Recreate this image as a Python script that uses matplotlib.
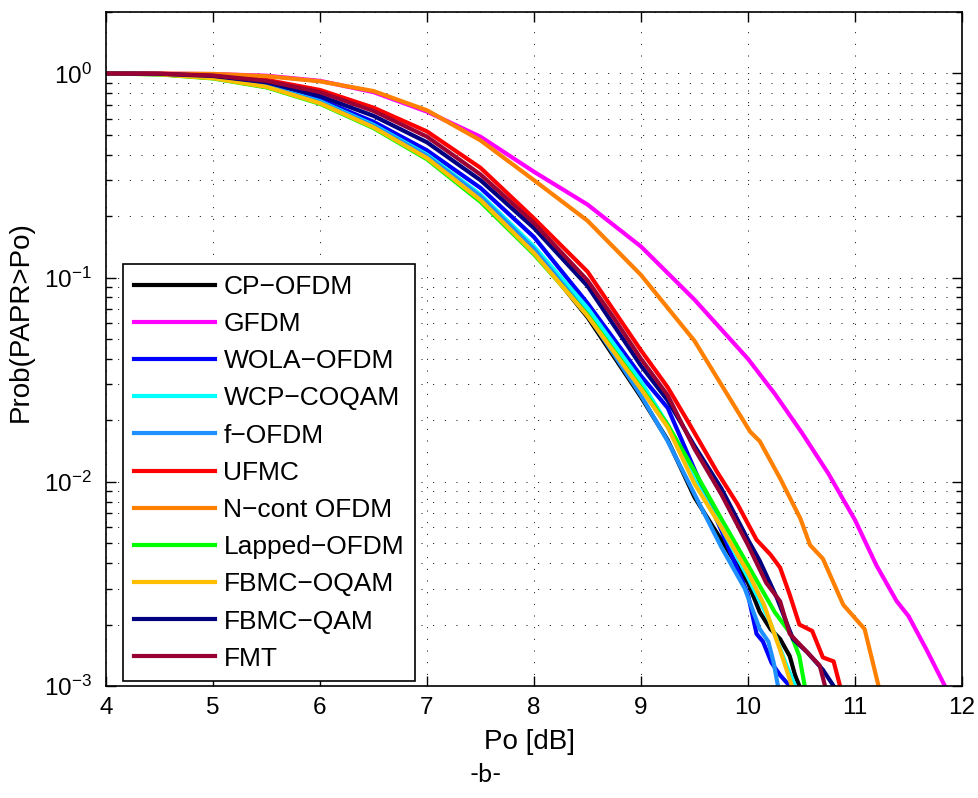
import numpy as np
import matplotlib
matplotlib.use('Agg')
import matplotlib.pyplot as plt
from matplotlib.ticker import LogLocator, NullFormatter

plt.rcParams['font.family'] = ['Liberation Sans', 'DejaVu Sans']
plt.rcParams['mathtext.fontset'] = 'custom'
plt.rcParams['mathtext.rm'] = 'Liberation Sans'
plt.rcParams['mathtext.it'] = 'Liberation Sans'

# CCDF of PAPR (x in dB, P = Prob(PAPR>Po))
x_cp = [4.0, 4.5, 5.0, 5.5, 6.0, 6.5, 7.0, 7.5, 8.0, 8.5, 9.0, 9.25, 9.5, 9.75, 10.0, 10.11, 10.21, 10.3, 10.39, 10.44, 10.48]
p_cp = [1.0, 0.993, 0.95, 0.86, 0.72, 0.55, 0.39, 0.245, 0.135, 0.064, 0.026, 0.016, 0.0084, 0.0052, 0.0032, 0.0023, 0.0019, 0.0017, 0.0014, 0.00113, 0.001]

x_gfdm = [4.0, 4.5, 5.0, 5.5, 6.0, 6.5, 7.0, 7.5, 8.0, 8.5, 9.0, 9.5, 10.0, 10.25, 10.5, 10.75, 11.0, 11.2, 11.39, 11.5, 11.67, 11.84]
p_gfdm = [1.0, 0.998, 0.993, 0.975, 0.92, 0.81, 0.65, 0.49, 0.33, 0.228, 0.142, 0.078, 0.040, 0.027, 0.0175, 0.011, 0.0065, 0.0039, 0.0026, 0.0022, 0.0015, 0.001]

x_wola = [4.0, 4.5, 5.0, 5.5, 6.0, 6.5, 7.0, 7.5, 8.0, 8.5, 9.0, 9.25, 9.5, 9.75, 10.0, 10.08, 10.14, 10.22, 10.3, 10.39]
p_wola = [1.0, 0.993, 0.96, 0.88, 0.745, 0.58, 0.42, 0.275, 0.158, 0.075, 0.033, 0.023, 0.0115, 0.0058, 0.0028, 0.0018, 0.00165, 0.0013, 0.00113, 0.001]

x_wcp = [4.0, 4.5, 5.0, 5.5, 6.0, 6.5, 7.0, 7.5, 8.0, 8.5, 9.0, 9.25, 9.5, 9.75, 10.0, 10.2, 10.35, 10.44]
p_wcp = [1.0, 0.992, 0.955, 0.87, 0.73, 0.56, 0.40, 0.255, 0.142, 0.071, 0.031, 0.019, 0.0102, 0.006, 0.0034, 0.0021, 0.0013, 0.001]

x_fofdm = [4.0, 4.5, 5.0, 5.5, 6.0, 6.5, 7.0, 7.5, 8.0, 8.5, 9.0, 9.25, 9.5, 9.75, 9.97, 10.11, 10.19, 10.24, 10.28]
p_fofdm = [1.0, 0.992, 0.953, 0.868, 0.725, 0.555, 0.395, 0.25, 0.138, 0.066, 0.0265, 0.0158, 0.0087, 0.0048, 0.003, 0.0019, 0.00165, 0.0013, 0.001]

x_ufmc = [4.0, 4.5, 5.0, 5.5, 6.0, 6.5, 7.0, 7.5, 8.0, 8.5, 9.0, 9.25, 9.44, 9.71, 9.9, 10.08, 10.21, 10.3, 10.39, 10.48, 10.6, 10.7, 10.8, 10.86]
p_ufmc = [1.0, 0.997, 0.98, 0.93, 0.83, 0.68, 0.52, 0.345, 0.195, 0.107, 0.044, 0.029, 0.0197, 0.0112, 0.0078, 0.0052, 0.0044, 0.0038, 0.0028, 0.002, 0.00186, 0.00138, 0.00132, 0.001]

x_ncont = [4.0, 4.5, 5.0, 5.5, 6.0, 6.5, 7.0, 7.5, 8.0, 8.5, 9.0, 9.5, 10.02, 10.11, 10.3, 10.49, 10.58, 10.7, 10.89, 11.09, 11.22]
p_ncont = [1.0, 0.999, 0.995, 0.97, 0.915, 0.82, 0.66, 0.47, 0.30, 0.19, 0.103, 0.049, 0.0176, 0.0158, 0.0104, 0.0066, 0.0049, 0.0042, 0.0025, 0.0019, 0.001]

x_lapped = [4.0, 4.5, 5.0, 5.5, 6.0, 6.5, 7.0, 7.5, 8.0, 8.5, 9.0, 9.25, 9.5, 9.75, 10.0, 10.25, 10.4, 10.48, 10.53]
p_lapped = [1.0, 0.99, 0.945, 0.855, 0.71, 0.54, 0.38, 0.235, 0.13, 0.066, 0.029, 0.019, 0.0113, 0.0066, 0.0039, 0.0023, 0.0018, 0.0014, 0.001]

x_oqam = [4.0, 4.5, 5.0, 5.5, 6.0, 6.5, 7.0, 7.5, 8.0, 8.5, 9.0, 9.25, 9.5, 9.75, 10.0, 10.15, 10.3, 10.41]
p_oqam = [1.0, 0.99, 0.948, 0.86, 0.715, 0.545, 0.385, 0.24, 0.132, 0.065, 0.0285, 0.0185, 0.0098, 0.006, 0.0036, 0.0025, 0.0015, 0.001]

x_qam = [4.0, 4.5, 5.0, 5.5, 6.0, 6.5, 7.0, 7.5, 8.0, 8.5, 8.75, 9.0, 9.25, 9.5, 9.75, 10.0, 10.11, 10.27, 10.42, 10.55, 10.7, 10.8]
p_qam = [1.0, 0.996, 0.972, 0.905, 0.775, 0.62, 0.46, 0.30, 0.175, 0.091, 0.058, 0.037, 0.025, 0.015, 0.0093, 0.0052, 0.0041, 0.0027, 0.0017, 0.00147, 0.0012, 0.001]

x_fmt = [4.0, 4.5, 5.0, 5.5, 6.0, 6.5, 7.0, 7.5, 8.0, 8.5, 8.75, 9.0, 9.25, 9.5, 9.75, 10.0, 10.17, 10.3, 10.39, 10.55, 10.67, 10.72]
p_fmt = [1.0, 0.997, 0.977, 0.92, 0.81, 0.655, 0.49, 0.32, 0.185, 0.097, 0.063, 0.04, 0.0265, 0.0145, 0.0087, 0.0049, 0.0032, 0.0026, 0.0018, 0.00147, 0.00126, 0.001]

labels = ['CP\u2212OFDM', 'GFDM', 'WOLA\u2212OFDM', 'WCP\u2212COQAM', 'f\u2212OFDM', 'UFMC',
          'N\u2212cont OFDM', 'Lapped\u2212OFDM', 'FBMC\u2212OQAM', 'FBMC\u2212QAM', 'FMT']
xs = [x_cp, x_gfdm, x_wola, x_wcp, x_fofdm, x_ufmc, x_ncont, x_lapped, x_oqam, x_qam, x_fmt]
ps = [p_cp, p_gfdm, p_wola, p_wcp, p_fofdm, p_ufmc, p_ncont, p_lapped, p_oqam, p_qam, p_fmt]
colors = ['#000000', '#ff00ff', '#0000ff', '#00ffff', '#1e90ff', '#ff0000',
          '#ff8000', '#00ff00', '#ffbf00', '#000080', '#990033']

fig = plt.figure(figsize=(9.79, 7.98), dpi=100)
ax = fig.add_axes([106/979, 1-686/798, 856/979, 674/798])

for x, p, c, lab in zip(xs, ps, colors, labels):
    ax.semilogy(x, p, color=c, lw=3, label=lab, solid_joinstyle='round')

ax.set_xlim(4, 12)
ax.set_ylim(1e-3, 2)
ax.set_xticks(range(4, 13))
ax.yaxis.set_major_locator(LogLocator(base=10, numticks=10))
ax.yaxis.set_minor_locator(LogLocator(base=10, subs=np.arange(2, 10), numticks=20))
ax.yaxis.set_minor_formatter(NullFormatter())

dots = (0, (1, 11))
ax.grid(True, which='major', axis='both', color='k', linestyle=dots, lw=0.7)
ax.grid(True, which='minor', axis='y', color='k', linestyle=dots, lw=0.7)

ax.tick_params(which='both', direction='in', top=True, right=True, labelsize=17.5, width=1)
ax.tick_params(which='major', length=7)
ax.tick_params(which='minor', length=4)
ax.tick_params(axis='x', pad=8)
ax.tick_params(axis='y', pad=10)
for s in ax.spines.values():
    s.set_linewidth(1.2)

ax.set_xlabel('Po [dB]', fontsize=20)
ax.xaxis.set_label_coords((530-106)/856, (686-729)/674)
ax.set_ylabel('Prob(PAPR>Po)', fontsize=20)
ax.yaxis.set_label_coords((34-106)/856, (686-322)/674)

leg = ax.legend(loc='lower left', bbox_to_anchor=(0.02, 0.007), fontsize=19,
                handlelength=3.1, handletextpad=0.3, labelspacing=0.5,
                borderpad=0.4, fancybox=False, framealpha=1, borderaxespad=0)
leg.get_frame().set_edgecolor('k')
leg.get_frame().set_linewidth(1.2)

fig.text(486/979, 1-775/798, '-b-', fontsize=18, family=['Lato', 'DejaVu Sans'],
         ha='center', va='center')

fig.savefig('out.png', dpi=100)
